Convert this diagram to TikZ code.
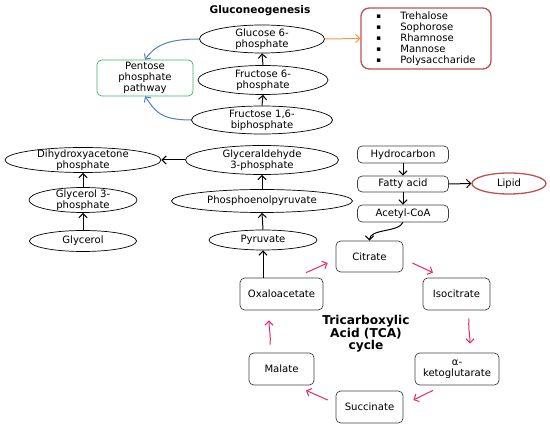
\documentclass[tikz,border=0pt]{standalone}
\usepackage{fontspec}
\setmainfont{DejaVu Sans}
\usepackage{xcolor}
\usetikzlibrary{arrows.meta,shapes,calc}

\definecolor{ppblue}{RGB}{79,129,189}
\definecolor{sugorange}{RGB}{247,150,70}
\definecolor{ppgreen}{RGB}{60,180,110}
\definecolor{lipred}{RGB}{192,80,77}
\definecolor{tcapink}{RGB}{230,36,110}

\def\px{0.03cm}
\newcommand{\bul}{\makebox[20.4pt][l]{\raisebox{0.5pt}{\fontsize{6}{6}\selectfont ▪}}}

\begin{document}
\begin{tikzpicture}[x=0.03cm,y=-0.03cm,
  font=\fontsize{8.6}{9.4}\selectfont,
  ell/.style={ellipse,draw,line width=0.6pt,inner xsep=0pt,inner ysep=-3pt,align=center},
  box/.style={rectangle,draw=black!75,line width=0.6pt,rounded corners=4pt,inner sep=0pt,align=center},
  sz/.style 2 args={minimum width=#1*\px,minimum height=#2*\px},
  arr/.style={-{Straight Barb[length=3.5pt,width=7pt]},line width=0.85pt},
  tca/.style={arr,draw=tcapink}]
\useasboundingbox (0,0) rectangle (550,428);

% gluconeogenesis
\node[font=\bfseries\fontsize{9}{10}\selectfont] (title) at (260,11) {Gluconeogenesis};
\node[ell,sz={125}{28}] (g6p) at (262,39) {Glucose 6-\\phosphate};
\node[ell,sz={130}{29}] (f6p) at (263,80) {Fructose 6-\\phosphate};
\node[ell,sz={141}{28}] (f16) at (262,120) {Fructose 1,6-\\biphosphate};
\node[box,draw=ppgreen,sz={96}{36}] (ppp) at (145,78) {Pentose\\phosphate\\pathway};
\node[box,draw=lipred,line width=1.1pt,rounded corners=7pt,sz={130}{61},align=left] (sugars) at (426,38.5)
  {\bul Trehalose\\\bul Sophorose\\\bul Rhamnose\\\bul Mannose\\\bul Polysaccharide};

% glycolysis side
\node[ell,sz={153}{29}] (gap) at (262,160) {Glyceraldehyde\\3-phosphate};
\node[ell,sz={181}{23}] (pep) at (262,201) {Phosphoenolpyruvate};
\node[ell,sz={108}{20}] (pyr) at (263,240) {Pyruvate};
\node[ell,sz={156}{25}] (dhap) at (83,160) {Dihydroxyacetone\\phosphate};
\node[ell,sz={108}{25}] (g3p) at (83,200) {Glycerol 3-\\phosphate};
\node[ell,sz={107}{21}] (gly) at (83,241) {Glycerol};

% hydrocarbon uptake
\node[box,sz={91}{17}] (hc) at (403,154.5) {Hydrocarbon};
\node[box,sz={91}{16}] (fa) at (403,184) {Fatty acid};
\node[box,sz={91}{17}] (acoa) at (403,213.5) {Acetyl-CoA};
\node[ell,draw=lipred,line width=1.1pt,sz={74}{21}] (lipid) at (509,183.5) {Lipid};

% TCA cycle
\node[box,sz={67}{31}] (citrate) at (369.5,256.5) {Citrate};
\node[box,sz={67}{32}] (iso) at (456.5,294) {Isocitrate};
\node[box,sz={84}{32}] (akg) at (457,369) {α-\\ketoglutarate};
\node[box,sz={67}{32}] (succ) at (369.5,407) {Succinate};
\node[box,sz={65}{32}] (malate) at (281.5,369) {Malate};
\node[box,sz={83}{32}] (oxalo) at (281.5,294) {Oxaloacetate};
\node[font=\bfseries\fontsize{10.4}{10.8}\selectfont,align=center] (tcalabel) at (366,334)
  {Tricarboxylic\\Acid (TCA)\\cycle};

\draw[arr](f6p.north)--(g6p.south);
\draw[arr](f16.north)--(f6p.south);
\draw[arr](pep.north)--(gap.south);
\draw[arr](pyr.north)--(pep.south);
\draw[arr](pyr.south|-oxalo.north)--(pyr.south);
\draw[arr](gap.west)--(dhap.east);
\draw[arr](g3p.north)--(dhap.south);
\draw[arr](gly.north)--(g3p.south);
\draw[arr](hc.south)--(fa.north);
\draw[arr](fa.south)--(acoa.north);
\draw[arr](fa.east)--(lipid.west);
\draw[arr](acoa.south)..controls +(-4,10) and +(0,-12)..(citrate.north);
\draw[arr,draw=ppblue](g6p.west)..controls +(-32,0) and +(10,-14)..(ppp.north);
\draw[arr,draw=ppblue](f16.west)..controls +(-32,0) and +(10,14)..(ppp.south);
\draw[arr,draw=sugorange](g6p.east)--(sugars.west);

\draw[tca]($(oxalo.north)+(24.5,-5)$)--($(citrate.west)+(-8,6.5)$);
\draw[tca]($(citrate.east)+(9,6.5)$)--($(iso.north)+(-23.5,-5)$);
\draw[tca]($(iso.south)+(12.5,8)$)..controls +(-1,9) and +(0,-9)..($(akg.north)+(13,-9)$);
\draw[tca]($(akg.south)+(-24,5)$)--($(succ.east)+(10,-7)$);
\draw[tca]($(succ.west)+(-8,-7)$)--($(malate.south)+(24.5,5)$);
\draw[tca]($(malate.north)+(-11.5,-8)$)..controls +(1,-9) and +(0,9)..($(oxalo.south)+(-12.5,10)$);
\end{tikzpicture}
\end{document}
